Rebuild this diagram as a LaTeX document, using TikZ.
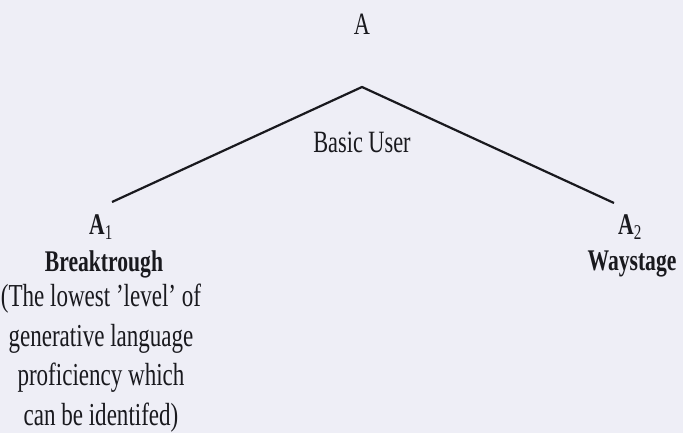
\documentclass[tikz,border=0pt]{standalone}
\usepackage{fontspec}
\setmainfont{Liberation Serif}[FakeStretch=0.72]
\definecolor{bgcol}{RGB}{238,238,246}
\definecolor{ink}{RGB}{25,25,30}
\begin{document}
\begin{tikzpicture}[x=1pt,y=-1pt,
  lbl/.style={text=ink,inner sep=0pt,font=\fontsize{30}{34}\selectfont\bfseries},
  lblreg/.style={text=ink,inner sep=0pt,font=\fontsize{31}{34}\selectfont},
  desc/.style={text=ink,inner sep=0pt,align=center,font=\fontsize{32}{39.5}\selectfont},
  branch/.style={draw=ink,line width=2.2pt}]
\fill[bgcol] (0,0) rectangle (683,433);
\useasboundingbox (0,0) rectangle (683,433);
\node[lblreg] (top) at (362,24) {A};
\coordinate (apex) at (362,87);
\coordinate (lend) at (112,202);
\coordinate (rend) at (614,203);
\draw[branch] (lend) -- (apex) -- (rend);
\node[lblreg] (basic) at (362,142) {Basic User};
\node[lbl] (a1) at (101,227) {A\textsubscript{\mdseries 1}};
\node[lbl] (break) at (104,264) {Breaktrough};
\node[desc] (descr) at (101,358) {(The lowest 'level' of\\generative language\\proficiency which\\can be identifed)};
\node[lbl] (a2) at (630,227) {A\textsubscript{\mdseries 2}};
\node[lbl] (way) at (632,264) {Waystage};
\end{tikzpicture}
\end{document}
